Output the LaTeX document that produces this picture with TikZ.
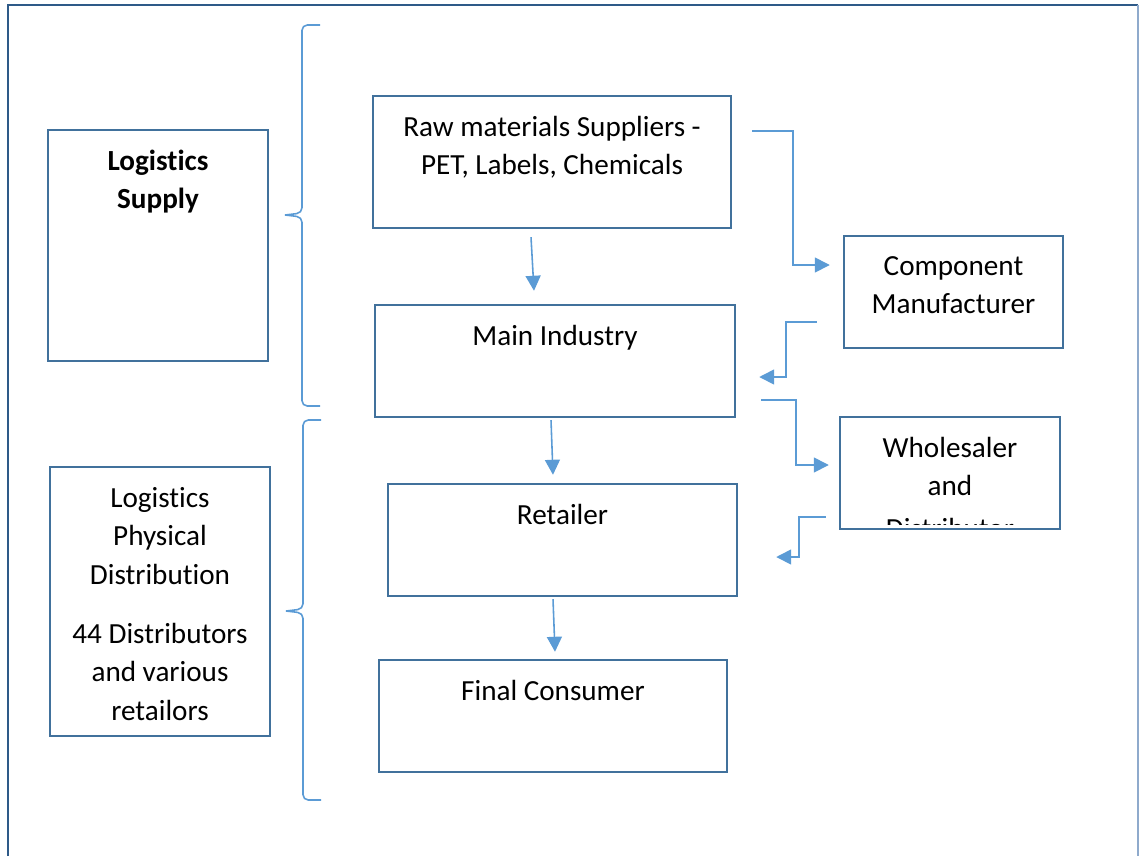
\documentclass[tikz,border=0pt]{standalone}
\usepackage{fontspec}
\setmainfont{Carlito}[Ligatures=NoCommon]
\usetikzlibrary{arrows.meta,positioning}
\definecolor{boxblue}{HTML}{41719C}
\definecolor{arrblue}{HTML}{5B9BD5}
\definecolor{framedark}{HTML}{2E5A88}
\definecolor{framelight}{HTML}{8FAACC}

\begin{document}
\begin{tikzpicture}[x=0.02cm, y=-0.02cm]

  \tikzset{box/.style args={#1x#2}{draw=boxblue, line width=1.4pt, inner sep=0pt,
                                   minimum width=#1*0.02cm, minimum height=#2*0.02cm},
           txt/.style={font=\fontsize{16.6}{21.8}\selectfont, align=center, inner sep=0pt,
                       execute at begin node=\strut},
           arr/.style={draw=arrblue, line width=0.9pt,
                       -{Triangle[length=0.3cm, width=0.3cm]}},
           brace/.style={draw=arrblue, line width=0.9pt, rounded corners=3pt}}

  \useasboundingbox (0,0) rectangle (1139,856);

  % page frame
  \draw[framedark, line width=1.7pt] (8,856) -- (8,5) -- (1138,5);
  \draw[framelight, line width=1pt] (1138,5) -- (1138,856);

  % left side
  \node[box=220x231] (ls) at (158,245.5) {};
  \node[txt, below=0.41cm of ls.north] (lstxt) {\textbf{Logistics}\\\textbf{Supply}};
  \node[box=220x269] (lpd) at (160,601.5) {};
  \node[txt, below=0.43cm of lpd.north] (lpdtxt)
    {Logistics\\Physical\\Distribution\\[0.42cm]44 Distributors\\and various\\retailors};

  % braces
  \draw[brace] (320,25) -- (302,25) -- (302,213) -- (285,215);
  \draw[brace] (285,215) -- (302,217) -- (302,406) -- (320,406);
  \draw[brace] (321,420) -- (303,420) -- (303,609) -- (286,611);
  \draw[brace] (286,611) -- (303,613) -- (303,800) -- (321,800);

  % chain
  \node[box=358x132] (raw) at (552,162) {};
  \node[txt, below=0.42cm of raw.north] (rawtxt) {Raw materials Suppliers -\\PET, Labels, Chemicals};
  \node[box=219x112] (comp) at (953.5,292) {};
  \node[txt, below=0.42cm of comp.north] (comptxt) {Component\\Manufacturer};
  \node[box=360x112] (main) at (555,361) {};
  \node[txt, below=0.29cm of main.north] (maintxt) {Main Industry};
  \node[box=220x112] (whole) at (950,473) {};
  \begin{scope}
    \clip (whole.north west) rectangle ([yshift=3pt]whole.south east);
    \node[txt, below=0.42cm of whole.north] (wholetxt) {Wholesaler\\and\\[0.1cm]Distributor};
  \end{scope}
  \node[box=349x112] (ret) at (562.5,540) {};
  \node[txt, below=0.29cm of ret.north] (rettxt) {Retailer};
  \node[box=348x112] (fin) at (553,716) {};
  \node[txt, below=0.30cm of fin.north] (fintxt) {Final Consumer};

  % flows
  \draw[arr] ([shift={(-21,8)}]raw.south) -- ([shift={(-21,-13)}]main.north);
  \draw[arr] ([shift={(20,-31)}]raw.east) -- ++(41,0) |- ([shift={(-13,-27)}]comp.west);
  \draw[arr] ([shift={(-26,30)}]comp.west) -- ++(-31,0) |- ([shift={(23,16)}]main.east);
  \draw[arr] ([shift={(25,39)}]main.east) -- ++(35,0) |- ([shift={(-10,-8)}]whole.west);
  \draw[arr] ([shift={(-13,44)}]whole.west) -- ++(-27,0) |- ([shift={(38,17)}]ret.east);
  \draw[arr] ([shift={(-4,2)}]main.south) -- ([shift={(-9.5,-8)}]ret.north);
  \draw[arr] ([shift={(-9.5,2)}]ret.south) -- ([shift={(2,-7)}]fin.north);

\end{tikzpicture}
\end{document}
